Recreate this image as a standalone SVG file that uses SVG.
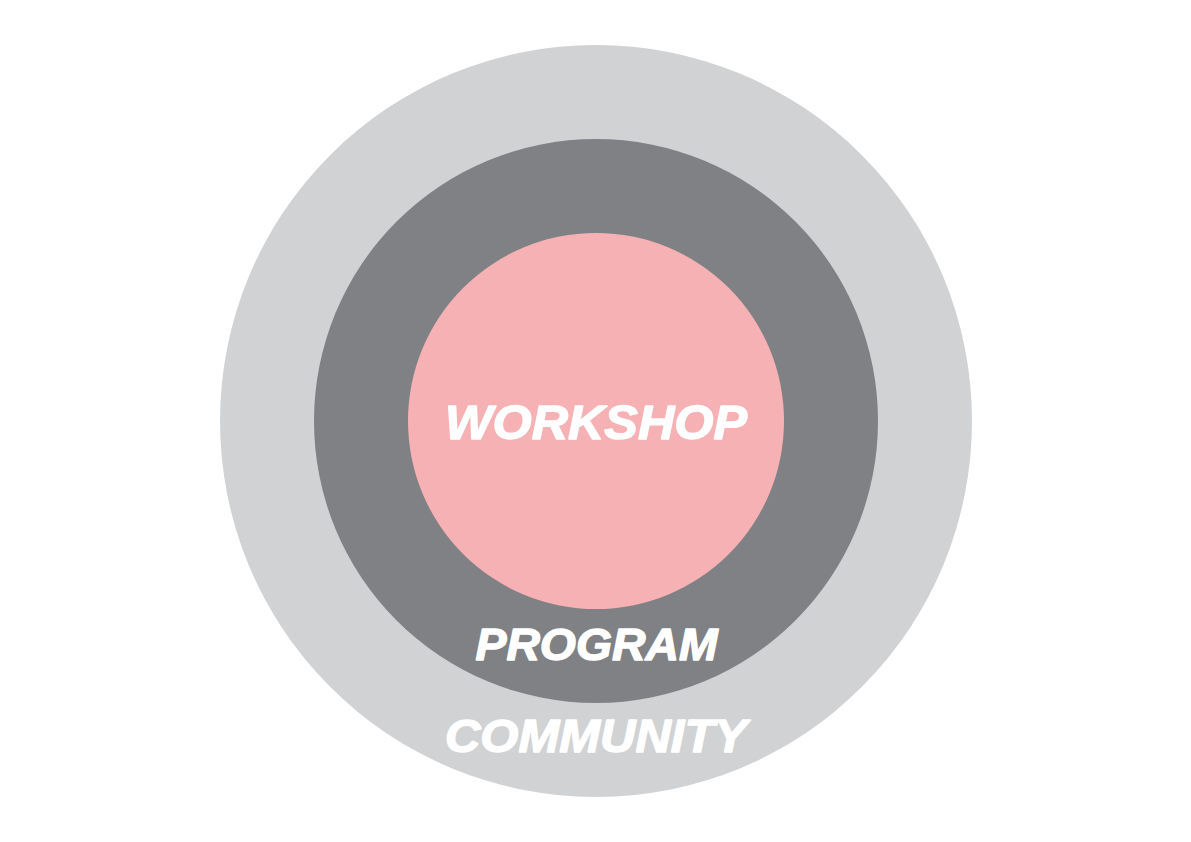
<svg xmlns="http://www.w3.org/2000/svg" width="1191" height="842" viewBox="0 0 1191 842">
<style>
.lbl{font-family:"Liberation Sans",Arial,sans-serif;font-weight:bold;font-style:italic;fill:#ffffff;stroke:#ffffff;stroke-width:1.4;stroke-linejoin:round;text-anchor:middle}
</style>
<rect width="1191" height="842" fill="#ffffff"/>
<g id="community">
<circle cx="596" cy="421" r="376" fill="#d1d2d4"/>
<text class="lbl" x="596" y="752" font-size="46" textLength="302" lengthAdjust="spacingAndGlyphs">COMMUNITY</text>
</g>
<g id="program">
<circle cx="596" cy="421" r="282" fill="#808184"/>
<text class="lbl" x="596.5" y="660" font-size="44" textLength="242" lengthAdjust="spacingAndGlyphs">PROGRAM</text>
</g>
<g id="workshop">
<circle cx="596" cy="421" r="188" fill="#f6b1b4"/>
<text class="lbl" x="596" y="439" font-size="49" textLength="302" lengthAdjust="spacingAndGlyphs">WORKSHOP</text>
</g>
<g id="connectors"/>
</svg>
